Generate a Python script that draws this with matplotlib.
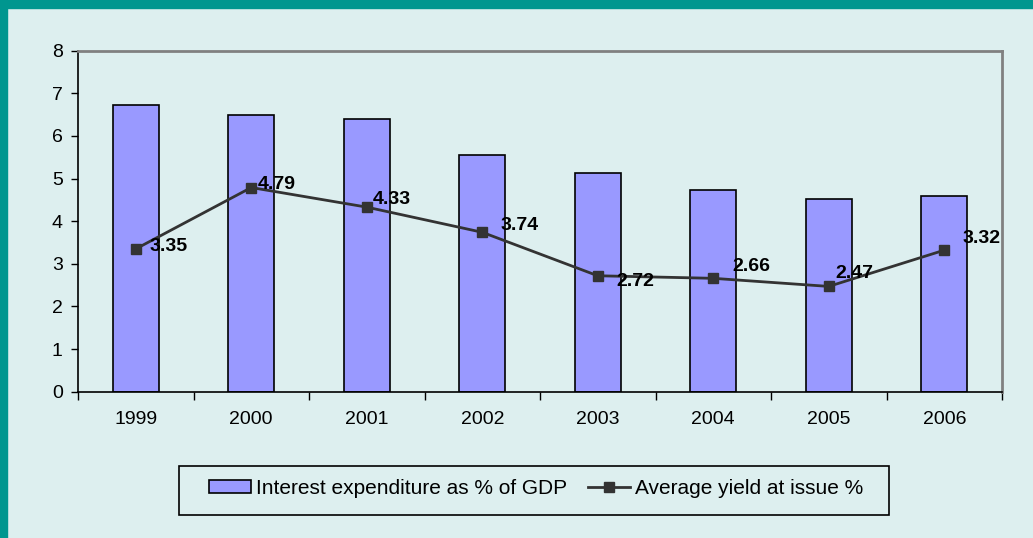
import numpy as np
import matplotlib.pyplot as plt
from matplotlib.patches import Rectangle

# ---------------------------------------------------------------------------
# Data
# ---------------------------------------------------------------------------
years = ["1999", "2000", "2001", "2002", "2003", "2004", "2005", "2006"]
interest_pct_gdp = [6.72, 6.49, 6.39, 5.55, 5.12, 4.73, 4.52, 4.59]
avg_yield = [3.35, 4.79, 4.33, 3.74, 2.72, 2.66, 2.47, 3.32]

# label offsets in pixels (dx, dy) from each yield point
label_offsets = [(14, 2), (7, 3), (6, 8), (18, 7), (19, -6), (19, 12), (7, 13), (18, 12)]

BG = "#ddefef"
TEAL = "#00968f"
BAR = "#9999ff"
LINE = "#333333"
W, H = 1033, 538

plt.rcParams["font.family"] = ["Liberation Sans", "DejaVu Sans"]

fig = plt.figure(figsize=(W / 100, H / 100), dpi=100, facecolor=BG)

# teal frame: band on top, strip on the left
fig.patches.append(Rectangle((0, 1 - 8 / H), 1, 8 / H, transform=fig.transFigure,
                             color=TEAL, zorder=0))
fig.patches.append(Rectangle((0, 0), 7 / W, 1, transform=fig.transFigure,
                             color=TEAL, zorder=0))

ax = fig.add_axes([78 / W, (H - 391.7) / H, 924 / W, 341 / H])
ax.set_facecolor(BG)

x = np.arange(len(years))
bars = ax.bar(x, interest_pct_gdp, width=0.4, color=BAR, edgecolor="black", lw=1.2,
              label="Interest expenditure as % of GDP", zorder=2)
line, = ax.plot(x, avg_yield, color=LINE, lw=2, marker="s", ms=7.2, mfc=LINE, mec=LINE,
                label="Average yield at issue %", zorder=3)

for xi, v, (dx, dy) in zip(x, avg_yield, label_offsets):
    ax.annotate(f"{v:.2f}", (xi, v), xytext=(dx * 0.72, dy * 0.72),
                textcoords="offset points", ha="left", va="center",
                fontsize=14, fontweight="bold", color="black", zorder=4)

ax.set_xlim(-0.5, len(years) - 0.5)
ax.set_ylim(0, 8)
ax.set_yticks(range(0, 9))
ax.tick_params(axis="y", direction="out", length=5, width=1, labelsize=14, pad=6)

ax.set_xticks(np.arange(-0.5, len(years), 1.0))
ax.set_xticklabels([])
ax.set_xticks(x, minor=True)
ax.set_xticklabels(years, minor=True)
ax.tick_params(axis="x", which="major", direction="out", length=6, width=1)
ax.tick_params(axis="x", which="minor", length=0, labelsize=14, pad=14)

ax.spines["left"].set_color("black")
ax.spines["bottom"].set_color("black")
ax.spines["left"].set_linewidth(1.2)
ax.spines["bottom"].set_linewidth(1.2)
ax.spines["top"].set_color("#808080")
ax.spines["right"].set_color("#808080")
ax.spines["top"].set_linewidth(2)
ax.spines["right"].set_linewidth(2)

# legend box drawn by hand so its size matches the original
fig.patches.append(Rectangle((179 / W, (H - 515) / H), 710 / W, 49 / H,
                             transform=fig.transFigure, fill=False,
                             edgecolor="black", lw=1.2, zorder=1))
fig.legend([bars, line], ["Interest expenditure as % of GDP", "Average yield at issue %"],
           loc="center", bbox_to_anchor=(536 / W, 49.5 / H), ncol=2,
           frameon=False, fontsize=15, handlelength=2.0,
           handleheight=0.6, handletextpad=0.25, columnspacing=1.0,
           borderpad=0, borderaxespad=0)

fig.savefig("out.png", dpi=100, facecolor=BG)
